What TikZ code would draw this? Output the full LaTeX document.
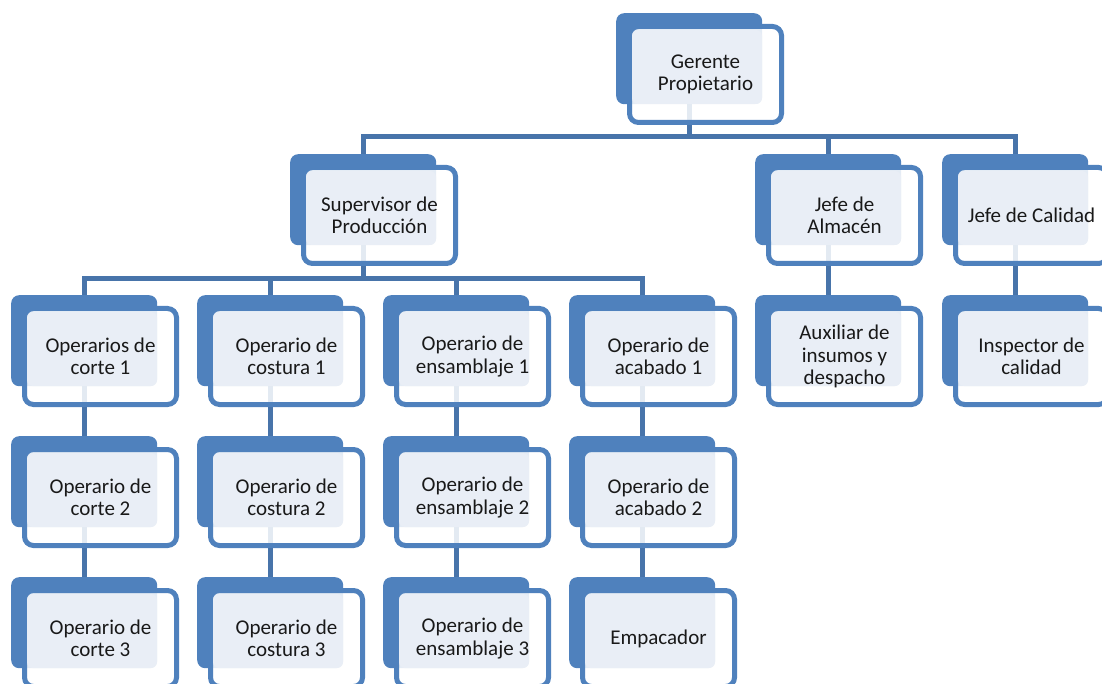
\documentclass[tikz,border=0pt]{standalone}
\usepackage{fontspec}
\setmainfont{Carlito}
\usetikzlibrary{backgrounds}

\definecolor{accent}{HTML}{4F81BD}
\definecolor{paneltint}{HTML}{E9EEF6}
\definecolor{linkblue}{HTML}{4874AA}

\tikzset{
  backbox/.style={rectangle, rounded corners=8pt, fill=accent, draw=none,
    inner sep=0pt, minimum width=146pt, minimum height=91pt},
  framebox/.style={draw=accent, line width=5pt, rounded corners=9pt,
    fill=white, fill opacity=0.85, draw opacity=1},
  tintbox/.style={fill=paneltint, rounded corners=6pt},
  boxtext/.style={align=center, inner sep=0pt, text=black!90,
    font=\fontsize{21}{22.5}\selectfont},
  link/.style={draw=linkblue, line width=5pt}
}

% #1 name, #2 left, #3 top (pixel units, y downwards), #4 text
\newcommand\orgbox[4]{%
  \node[backbox, anchor=north west] (#1) at (#2,#3) {};
  \draw[framebox] (#2+13.5,#3+13.5) rectangle (#2+165.5,#3+109.5);
  \fill[tintbox] (#2+16,#3+17) rectangle (#2+146,#3+91);
  \node[boxtext] (#1-t) at (#2+89.5,#3+61.5) {#4};
}

\begin{document}
\begin{tikzpicture}[x=1pt, y=-1pt]
\useasboundingbox (0,0) rectangle (1102,684);
\clip (0,0) rectangle (1102,684);

% top level
\orgbox{ger}{616}{13}{Gerente\\Propietario}
% second level
\orgbox{sup}{290}{154}{Supervisor de\\Producción}
\orgbox{alm}{755}{154}{Jefe de\\Almacén}
\orgbox{cal}{942}{154}{Jefe de Calidad}
% third level
\orgbox{op1}{11}{295}{Operarios de\\corte 1}
\orgbox{co1}{197}{295}{Operario de\\costura 1}
\orgbox{en1}{383}{295}{Operario de\\ensamblaje 1}
\orgbox{ac1}{569}{295}{Operario de\\acabado 1}
\orgbox{aux}{755}{295}{Auxiliar de\\insumos y\\despacho}
\orgbox{ins}{942}{295}{Inspector de\\calidad}
% fourth level
\orgbox{op2}{11}{436}{Operario de\\corte 2}
\orgbox{co2}{197}{436}{Operario de\\costura 2}
\orgbox{en2}{383}{436}{Operario de\\ensamblaje 2}
\orgbox{ac2}{569}{436}{Operario de\\acabado 2}
% fifth level
\orgbox{op3}{11}{577}{Operario de\\corte 3}
\orgbox{co3}{197}{577}{Operario de\\costura 3}
\orgbox{en3}{383}{577}{Operario de\\ensamblaje 3}
\orgbox{emp}{569}{577}{Empacador}

\begin{scope}[on background layer]
  % manager to department heads
  \draw[link] (ger.south) -- ++(0,32.5);
  \draw[link] (sup.north) -- ++(0,-17.5) -| (cal.north);
  \draw[link] (alm.north) -- ++(0,-17.5);
  % supervisor to operators
  \draw[link] (sup.south) -- ++(0,34);
  \draw[link] (op1.north) -- ++(0,-16) -| (ac1.north);
  \draw[link] (co1.north) -- ++(0,-16);
  \draw[link] (en1.north) -- ++(0,-16);
  % vertical chains
  \draw[link] (alm.south) -- (aux.north);
  \draw[link] (cal.south) -- (ins.north);
  \draw[link] (op1.south) -- (op2.north);
  \draw[link] (op2.south) -- (op3.north);
  \draw[link] (co1.south) -- (co2.north);
  \draw[link] (co2.south) -- (co3.north);
  \draw[link] (en1.south) -- (en2.north);
  \draw[link] (en2.south) -- (en3.north);
  \draw[link] (ac1.south) -- (ac2.north);
  \draw[link] (ac2.south) -- (emp.north);
\end{scope}
\end{tikzpicture}
\end{document}
